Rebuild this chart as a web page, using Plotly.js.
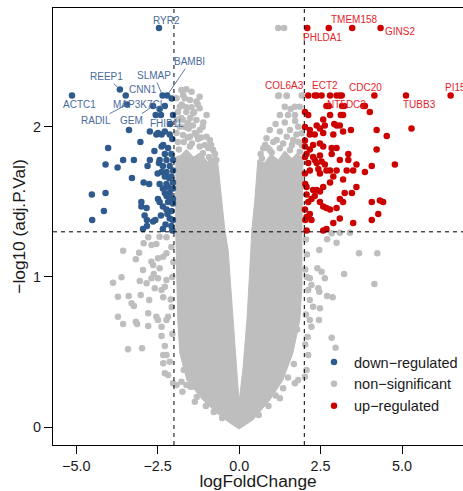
<!DOCTYPE html>
<html><head><meta charset="utf-8">
<script src="https://cdn.plot.ly/plotly-3.0.1.min.js"></script>
<style>html,body{margin:0;padding:0;background:#fff;overflow:hidden}</style>
</head><body><div id="chart" style="width:463px;height:491px"></div>
<script>
// ---- data ----
// down-regulated genes (logFC, -log10 adj.P)
const downX = [
 -2.46,-5.13,-3.66,-3.48,-3.44,-2.64,-2.35,-2.21,-2.07,-2.56,
 -2.40,-2.44,-2.28,-2.03,-2.54,-2.38,-2.28,-2.33,-3.38,-2.74,
 -2.49,-2.13,-3.03,-4.02,-2.38,-2.28,-2.08,-3.56,-3.23,-2.74,
 -2.44,-2.23,-2.03,-4.10,-3.73,-2.81,-2.46,-2.34,-2.13,-2.38,
 -2.23,-2.03,-2.28,-2.08,-3.29,-2.93,-2.76,-2.44,-2.23,-2.03,
 -2.34,-2.18,-2.03,-2.28,-2.13,-4.52,-4.10,-2.23,-2.03,-2.49,
 -2.44,-3.00,-2.84,-3.00,-2.18,-2.03,-2.34,-4.15,-2.23,-2.08,
 -4.51,-2.90,-2.83,-2.64,-2.57,-2.13,-2.03,-2.95,-2.83,-2.34,
 -2.26,-2.08,-2.15,-2.10,-2.20,-2.05,-2.40,-2.60,-2.18,-2.05,
 -2.50,-2.12];
const downY = [
 2.66,2.21,2.25,2.21,2.15,2.14,2.21,2.21,2.19,2.08,
 2.08,2.12,2.14,2.08,1.95,1.95,1.97,1.88,1.98,1.97,
 1.96,1.95,1.90,1.86,1.87,1.82,1.82,1.78,1.78,1.78,
 1.78,1.78,1.78,1.75,1.73,1.74,1.76,1.74,1.74,1.70,
 1.70,1.71,1.67,1.67,1.66,1.63,1.62,1.62,1.62,1.63,
 1.59,1.60,1.59,1.56,1.56,1.55,1.56,1.54,1.52,1.52,
 1.50,1.50,1.46,1.47,1.50,1.49,1.47,1.44,1.45,1.44,
 1.38,1.41,1.38,1.37,1.38,1.39,1.38,1.32,1.34,1.32,
 1.35,1.34,1.66,1.53,1.42,1.31,1.41,1.84,1.86,1.92,
 1.69,2.02];

// up-regulated genes
const upX = [
 2.09,2.75,3.47,4.34,2.12,2.32,2.38,2.53,2.79,2.99,
 3.09,3.15,4.15,5.12,6.49,2.68,2.75,3.16,3.22,3.81,
 3.86,4.01,2.02,2.12,2.79,3.12,3.19,2.58,2.92,2.38,
 2.48,2.63,3.09,
 2.17,2.32,2.58,2.99,2.89,3.19,3.43,4.22,4.53,5.29,
 2.02,2.17,2.27,2.48,2.58,2.84,2.99,2.84,4.22,2.07,
 2.27,2.48,3.35,3.35,3.09,3.60,4.07,4.78,3.86,2.32,
 2.38,2.53,2.63,2.43,2.68,2.17,2.02,2.48,2.79,2.99,
 3.30,3.50,3.19,2.89,2.79,2.58,2.38,2.27,2.48,2.32,
 2.07,3.60,3.46,3.24,3.09,3.19,4.07,4.32,4.42,2.22,
 2.12,2.48,2.58,2.68,2.79,2.99,4.27,4.07,3.50,3.09,
 2.89,2.68,2.58,2.17,2.07,2.22,2.03,2.07,2.02,2.17,
 2.02,2.12,2.02,2.03,2.02,2.07];
const upY = [
 2.66,2.66,2.66,2.66,2.21,2.21,2.21,2.21,2.21,2.21,
 2.21,2.21,2.21,2.21,2.21,2.14,2.14,2.14,2.14,2.14,
 2.14,2.10,2.10,2.08,2.08,2.08,2.08,2.05,2.02,2.01,
 1.99,2.01,2.01,
 1.98,1.95,1.96,2.01,1.95,1.97,1.98,1.98,1.94,1.99,
 1.87,1.85,1.88,1.89,1.87,1.86,1.86,1.82,1.85,1.82,
 1.80,1.81,1.82,1.78,1.78,1.75,1.74,1.75,1.70,1.78,
 1.76,1.77,1.75,1.72,1.71,1.71,1.69,1.69,1.71,1.71,
 1.71,1.71,1.65,1.67,1.63,1.60,1.58,1.58,1.57,1.54,
 1.55,1.60,1.56,1.56,1.52,1.50,1.50,1.51,1.50,1.52,
 1.50,1.50,1.47,1.46,1.45,1.46,1.42,1.38,1.36,1.39,
 1.36,1.32,1.31,1.42,1.40,1.38,1.38,1.31,2.00,1.95,
 1.91,1.76,1.80,1.62,1.45,1.60];

// non-significant genes: scattered ones outside the dense core
const nsX = [
 -3.56,-3.07,-3.17,-2.93,-2.69,-2.54,-2.79,-2.44,-2.23,-2.69,
 -2.64,-2.49,-2.33,-2.23,-2.44,-3.87,-3.61,-3.05,-2.84,-2.69,
 -2.49,-2.62,-2.95,-3.72,-3.39,-3.02,-2.76,-3.30,-3.23,-2.59,
 -2.38,-2.28,-2.23,-2.33,-3.72,-3.56,-3.17,-3.13,-2.79,-2.79,
 -2.54,-2.49,-2.38,-2.23,-2.18,-3.41,-2.98,-2.38,-2.28,-2.33,
 -2.23,-2.33,-2.13,-2.28,-2.18,-2.03,-1.92,-1.77,-1.74,-1.62,
 -1.46,-1.36,-2.08,-2.05,-2.10,-2.05,-2.07,-2.02,
 2.84,3.09,3.40,2.70,2.99,2.46,3.68,4.24,2.40,2.53,
 2.63,3.22,4.15,2.17,2.22,2.43,2.46,2.70,2.87,2.12,
 2.17,2.27,2.48,2.45,2.17,2.22,2.84,2.96,2.12,2.07,
 2.02,1.81,1.71,1.35,1.25,2.05,2.08,2.03,2.10,2.05,
 2.03,2.08,
 -1.77,-1.62,-1.46,-1.72,-1.21,-1.51,-1.31,-1.82,-1.62,-1.46,
 -1.21,-1.00,-1.41,-1.31,-1.72,-1.57,-1.82,-1.21,-1.00,-0.90,
 -1.51,-1.31,-1.72,-1.92,-1.67,-0.80,-1.21,-1.51,-1.11,-1.88,
 -1.88,-1.90,-1.78,-1.66,-1.55,-1.42,-1.36,-1.26,-1.12,-1.05,
 -0.95,-0.86,-0.74,-1.85,-1.70,-1.58,-1.45,-1.16,-1.92,-1.62,
 -1.38,-1.10,-1.76,-1.50,-1.27,-0.70,-0.92,
 1.20,1.46,1.40,1.71,1.86,1.25,1.50,1.71,0.94,1.25,
 1.56,1.81,1.92,0.84,1.15,1.46,1.66,1.81,0.74,0.94,
 1.25,1.56,1.86,1.20,1.38,1.22,1.92,1.46,0.66,0.80,
 1.05,1.35,1.62,1.76,1.92,0.70,1.00,1.12,1.40,1.72,
 1.58,0.88,
 -1.30,-1.02,-0.78,-0.52,0.60,0.90,1.12,1.50,1.68,-1.70,
 -1.50,1.78];
const nsY = [
 1.175,1.162,1.118,1.225,1.213,1.220,1.265,1.269,1.265,1.102,
 1.080,1.125,1.135,1.158,1.058,0.962,0.998,0.973,0.958,0.991,
 0.991,1.020,1.047,0.869,0.873,0.880,0.847,0.825,0.807,0.925,
 0.913,0.935,0.980,0.865,0.735,0.687,0.702,0.687,0.758,0.673,
 0.735,0.713,0.669,0.713,0.735,0.518,0.525,0.607,0.540,0.480,
 0.480,0.425,0.435,0.358,0.347,0.291,0.280,0.302,0.235,0.280,
 0.269,0.169,1.20,1.00,0.85,0.62,0.80,1.10,
 1.291,1.295,1.295,1.251,1.229,1.180,1.158,1.158,1.058,1.035,
 0.991,1.020,0.953,0.991,0.947,0.925,0.902,0.873,0.865,0.913,
 0.847,0.802,0.791,0.713,0.713,0.669,0.595,0.529,0.480,0.380,
 0.335,0.313,0.291,0.258,0.191,1.25,1.15,1.05,0.60,0.75,
 0.55,1.00,
 2.247,2.251,2.235,2.213,2.202,2.180,2.169,2.135,2.131,2.131,
 2.125,2.080,2.091,2.047,2.047,2.025,2.002,1.980,1.935,1.913,
 1.935,1.947,1.947,2.191,2.191,1.847,1.869,1.869,1.825,2.100,
 1.900,2.050,2.060,2.000,1.990,2.010,1.960,1.920,2.000,1.880,
 1.860,1.880,1.820,1.850,1.900,1.930,1.890,1.930,1.960,2.100,
 2.100,2.030,2.150,2.060,2.150,1.780,1.800,
 2.207,2.207,2.135,2.135,2.135,2.080,2.080,2.080,1.980,1.969,
 1.980,2.002,1.958,1.925,1.913,1.935,1.913,1.902,1.858,1.847,
 1.858,1.847,1.835,2.660,2.660,2.210,2.210,2.210,1.820,1.880,
 1.900,1.890,1.880,1.950,1.880,1.790,1.830,2.020,2.030,2.040,
 2.120,1.860,
 0.200,0.140,0.100,0.060,0.080,0.140,0.210,0.330,0.420,0.380,
 0.270,0.650];

// outline of the dense non-significant core (thousands of overlapping points)
const coreX = [-1.944,-1.944,-1.883,-1.821,-1.606,-1.115,-0.685,-0.286,0.000,0.421,
  0.943,1.342,1.649,1.864,1.926,1.926,1.956,1.80,1.62,1.40,
  1.20,0.98,0.78,0.574,0.482,0.390,
  0.359,0.246,0.123,0.000,-0.080,-0.184,-0.338,-0.439,-0.541,-0.654,
  -0.78,-0.98,-1.18,-1.40,-1.62,-1.80,-1.944];
const coreY = [1.800,1.293,0.713,0.493,0.313,0.180,0.093,0.027,-0.013,0.047,
  0.180,0.313,0.493,0.713,0.933,1.293,1.780,1.830,1.790,1.840,
  1.780,1.820,1.760,1.780,1.513,1.313,
  1.180,0.733,0.400,0.167,0.400,0.733,1.180,1.313,1.513,1.760,
  1.800,1.770,1.830,1.800,1.850,1.810,1.800];

// labelled genes
const downGenes = ["RYR2","BAMBI","SLMAP","REEP1","CNN1","ACTC1","MAP3K7CL","RADIL","GEM","FHIP1L"];
const downGeneX = [-2.46,-2.21,-2.35,-3.66,-3.48,-5.13,-2.56,-3.44,-2.64,-2.07];
const downGeneY = [2.66,2.21,2.21,2.25,2.21,2.21,2.08,2.15,2.14,2.19];
const upGenes = ["PHLDA1","TMEM158","GINS2","COL6A3","ECT2","CDC20","PI15","NT5DC2","TUBB3"];
const upGeneX = [2.09,3.47,4.34,2.12,2.32,4.15,6.49,3.22,5.12];
const upGeneY = [2.66,2.66,2.66,2.21,2.21,2.21,2.21,2.14,2.21];

const logFCcut = 2;
const pCut = 0.05;

// ---- label placement (styling) ----
const downPlace = [
  {tx:-2.23,ty:2.713,line:false},{tx:-1.51,ty:2.435,line:true},{tx:-2.61,ty:2.342,line:true},
  {tx:-4.07,ty:2.335,line:true},{tx:-2.95,ty:2.247,line:false},{tx:-4.89,ty:2.147,line:false},
  {tx:-3.05,ty:2.147,line:false},{tx:-4.38,ty:2.042,line:true},{tx:-3.30,ty:2.042,line:true},
  {tx:-2.22,ty:2.02,line:false}];
const upPlace = [
  {tx:2.55,ty:2.595},{tx:3.55,ty:2.715},{tx:4.94,ty:2.635},{tx:1.40,ty:2.275},{tx:2.63,ty:2.275},
  {tx:3.88,ty:2.265},{tx:6.63,ty:2.265},{tx:3.30,ty:2.147},{tx:5.55,ty:2.147}];

const BLUE = '#2E5A8E', RED = '#CD0000', GREY = '#BEBEBE';
const BLUE_T = '#4A6B9C', RED_T = '#E3242B';
const FONT = 'Liberation Sans, Arial, sans-serif';

const traces = [
  {x: coreX, y: coreY, type:'scatter', mode:'lines', fill:'toself', fillcolor: GREY,
   line:{color: GREY, width:1}, hoverinfo:'skip', showlegend:false},
  {x: nsX, y: nsY, type:'scatter', mode:'markers', name:'non\u2212significant', legendrank:2,
   marker:{color: GREY, size:6.5}},
  {x: downX, y: downY, type:'scatter', mode:'markers', name:'down\u2212regulated', legendrank:1,
   marker:{color: BLUE, size:6.5}},
  {x: upX, y: upY, type:'scatter', mode:'markers', name:'up\u2212regulated', legendrank:3,
   marker:{color: RED, size:6.5}}
];

const annotations = [];
downGenes.forEach((g,i)=>{
  const p = downPlace[i];
  if (p.line) {
    annotations.push({x: downGeneX[i], y: downGeneY[i], ax: p.tx, ay: p.ty, axref:'x', ayref:'y',
      text:g, showarrow:true, arrowhead:0, arrowwidth:0.9, arrowcolor:BLUE_T, standoff:3,
      font:{family:FONT, size:10, color:BLUE_T}});
  } else {
    annotations.push({x:p.tx, y:p.ty, text:g, showarrow:false, font:{family:FONT, size:10, color:BLUE_T}});
  }
});
upGenes.forEach((g,i)=>{
  const p = upPlace[i];
  annotations.push({x:p.tx, y:p.ty, text:g, showarrow:false, font:{family:FONT, size:10, color:RED_T}});
});

const hLine = -Math.log10(pCut);
const dash = {color:'#000', width:1, dash:'4px,4px'};
const layout = {
  width:463, height:491,
  margin:{l:53, r:0, t:8, b:46, pad:0},
  paper_bgcolor:'#fff', plot_bgcolor:'#fff',
  font:{family:FONT, color:'#1a1a1a', size:14.4},
  showlegend:true,
  legend:{x:0.637, y:0.2265, xanchor:'left', yanchor:'top', bgcolor:'rgba(0,0,0,0)',
    font:{family:FONT, size:14.5, color:'#1a1a1a'}, tracegroupgap:0, itemwidth:30},
  xaxis:{range:[-5.712, 6.870], tickvals:[-5,-2.5,0,2.5,5], automargin:false,
    ticktext:['\u22125.0','\u22122.5','0.0','2.5','5.0'],
    ticks:'outside', ticklen:8, tickwidth:1, tickcolor:'#000',
    showline:true, linecolor:'#000', linewidth:1, mirror:true,
    showgrid:false, zeroline:false, tickfont:{size:14.4},
    title:{text:'logFoldChange', font:{size:17.3}, standoff:4}},
  yaxis:{range:[-0.12, 2.793], tickvals:[0,1,2], ticktext:['0','1','2'], automargin:'left+title',
    ticks:'outside', ticklen:8, tickwidth:1, tickcolor:'#000',
    showline:true, linecolor:'#000', linewidth:1, mirror:false,
    showgrid:false, zeroline:false, tickfont:{size:14.4},
    title:{text:'\u2212log10 (adj.P.Val)', font:{size:17.3}, standoff:3}},
  shapes:[
    {type:'line', xref:'x', yref:'paper', x0:-logFCcut, x1:-logFCcut, y0:0, y1:1, line:dash, layer:'above'},
    {type:'line', xref:'x', yref:'paper', x0:logFCcut, x1:logFCcut, y0:0, y1:1, line:dash, layer:'above'},
    {type:'line', xref:'paper', yref:'y', x0:0, x1:1, y0:hLine, y1:hLine, line:dash, layer:'above'}
  ],
  annotations: annotations
};
Plotly.newPlot('chart', traces, layout, {displayModeBar:false, staticPlot:true});
</script></body></html>
